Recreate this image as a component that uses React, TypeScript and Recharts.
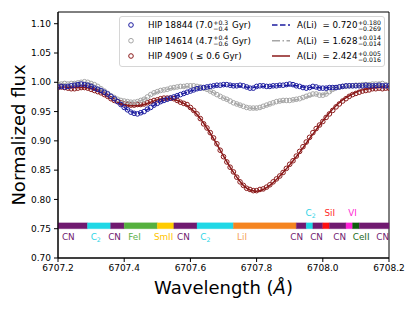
import React from 'react'
import {
    ComposedChart,
    Scatter,
    Line,
    XAxis,
    YAxis,
    ReferenceArea,
    ReferenceDot,
    Legend,
} from 'recharts'

// observed spectra, sampled every 0.01 A from 6707.20 to 6708.20
const hip18844Flux = [
    0.992, 0.993, 0.992, 0.993, 0.994, 0.995, 0.996, 0.997, 0.996, 0.995,
    0.993, 0.990, 0.988, 0.986, 0.983, 0.980, 0.976, 0.972, 0.967, 0.962,
    0.957, 0.953, 0.949, 0.947, 0.946, 0.948, 0.950, 0.954, 0.957, 0.961,
    0.964, 0.967, 0.969, 0.971, 0.973, 0.975, 0.977, 0.979, 0.981, 0.983,
    0.985, 0.987, 0.989, 0.990, 0.991, 0.992, 0.993, 0.994, 0.995, 0.995,
    0.996, 0.996, 0.995, 0.994, 0.994, 0.995, 0.994, 0.992, 0.990, 0.990,
    0.993, 0.994, 0.994, 0.993, 0.993, 0.994, 0.994, 0.995, 0.995, 0.996,
    0.997, 0.996, 0.994, 0.993, 0.991, 0.990, 0.991, 0.993, 0.992, 0.990,
    0.990, 0.990, 0.991, 0.991, 0.991, 0.992, 0.993, 0.994, 0.994, 0.994,
    0.994, 0.994, 0.994, 0.995, 0.994, 0.994, 0.994, 0.995, 0.994, 0.994,
    0.994,
]
const hip14614Flux = [
    0.997, 0.997, 0.998, 0.997, 0.998, 0.998, 0.999, 1.000, 1.001, 1.000,
    0.998, 0.996, 0.993, 0.989, 0.985, 0.981, 0.977, 0.974, 0.971, 0.969,
    0.968, 0.967, 0.966, 0.966, 0.967, 0.969, 0.971, 0.975, 0.979, 0.982,
    0.984, 0.986, 0.987, 0.988, 0.990, 0.991, 0.992, 0.993, 0.993, 0.994,
    0.994, 0.994, 0.993, 0.992, 0.990, 0.988, 0.985, 0.982, 0.979, 0.976,
    0.973, 0.971, 0.968, 0.965, 0.963, 0.961, 0.959, 0.957, 0.956, 0.956,
    0.956, 0.957, 0.959, 0.961, 0.963, 0.965, 0.967, 0.968, 0.969, 0.969,
    0.969, 0.970, 0.971, 0.972, 0.974, 0.976, 0.978, 0.980, 0.980, 0.978,
    0.978, 0.980, 0.984, 0.988, 0.991, 0.992, 0.993, 0.993, 0.994, 0.994,
    0.995, 0.995, 0.996, 0.996, 0.996, 0.997, 0.997, 0.997, 0.998, 0.996,
    0.994,
]
const hip4909Flux = [
    0.991, 0.992, 0.991, 0.990, 0.989, 0.989, 0.990, 0.991, 0.991, 0.990,
    0.988, 0.986, 0.984, 0.982, 0.979, 0.976, 0.972, 0.969, 0.967, 0.965,
    0.963, 0.962, 0.961, 0.961, 0.962, 0.962, 0.963, 0.965, 0.967, 0.969,
    0.970, 0.972, 0.973, 0.973, 0.973, 0.972, 0.969, 0.966, 0.964, 0.962,
    0.957, 0.952, 0.946, 0.938, 0.929, 0.922, 0.914, 0.905, 0.895, 0.884,
    0.873, 0.864, 0.855, 0.847, 0.838, 0.830, 0.824, 0.819, 0.817, 0.815,
    0.815, 0.817, 0.818, 0.821, 0.825, 0.830, 0.835, 0.840, 0.846, 0.853,
    0.860, 0.866, 0.874, 0.882, 0.890, 0.898, 0.906, 0.914, 0.921, 0.927,
    0.933, 0.940, 0.946, 0.952, 0.958, 0.963, 0.968, 0.972, 0.976, 0.979,
    0.981, 0.983, 0.985, 0.986, 0.987, 0.989, 0.989, 0.990, 0.989, 0.990,
    0.990,
]

// synthetic fits, sampled every 0.02 A
const fitLow = [
    0.993, 0.993, 0.994, 0.995, 0.995, 0.993, 0.988, 0.982, 0.975, 0.966,
    0.957, 0.950, 0.947, 0.950, 0.957, 0.964, 0.969, 0.973, 0.977, 0.981,
    0.985, 0.988, 0.991, 0.993, 0.994, 0.995, 0.995, 0.994, 0.993, 0.991,
    0.992, 0.993, 0.993, 0.994, 0.994, 0.995, 0.994, 0.992, 0.991, 0.991,
    0.990, 0.991, 0.991, 0.992, 0.993, 0.994, 0.994, 0.994, 0.994, 0.994,
    0.994,
]
const fitMid = [
    0.997, 0.997, 0.997, 0.998, 0.999, 0.997, 0.992, 0.985, 0.977, 0.971,
    0.968, 0.966, 0.967, 0.971, 0.978, 0.983, 0.987, 0.989, 0.991, 0.992,
    0.993, 0.992, 0.989, 0.985, 0.979, 0.973, 0.968, 0.963, 0.959, 0.956,
    0.955, 0.958, 0.962, 0.966, 0.968, 0.969, 0.970, 0.973, 0.976, 0.979,
    0.979, 0.983, 0.988, 0.991, 0.993, 0.994, 0.995, 0.996, 0.996, 0.996,
    0.995,
]
const fitHigh = [
    0.992, 0.992, 0.991, 0.991, 0.991, 0.989, 0.985, 0.979, 0.972, 0.966,
    0.962, 0.960, 0.960, 0.962, 0.966, 0.970, 0.972, 0.972, 0.969, 0.964,
    0.956, 0.945, 0.930, 0.913, 0.894, 0.874, 0.855, 0.838, 0.824, 0.816,
    0.814, 0.817, 0.824, 0.834, 0.846, 0.859, 0.873, 0.888, 0.904, 0.919,
    0.934, 0.948, 0.960, 0.970, 0.977, 0.983, 0.987, 0.989, 0.991, 0.992,
    0.992,
]

const xTicks = [6707.2, 6707.4, 6707.6, 6707.8, 6708.0, 6708.2]
const yTicks = [0.7, 0.75, 0.8, 0.85, 0.9, 0.95, 1.0, 1.05, 1.1]

// line list
const lineFrom = [6707.2, 6707.289, 6707.359, 6707.4, 6707.5, 6707.55, 6707.62, 6707.73, 6707.92, 6707.95, 6707.97, 6708.0, 6708.02, 6708.07, 6708.09, 6708.11]
const lineTo = [6707.289, 6707.359, 6707.4, 6707.5, 6707.55, 6707.62, 6707.73, 6707.92, 6707.95, 6707.97, 6708.0, 6708.02, 6708.07, 6708.09, 6708.11, 6708.2]
const lineSpecies = ['CN', 'C2', 'CN', 'FeI', 'SmII', 'CN', 'C2', 'LiI', 'CN', 'C2', 'CN', 'SiI', 'CN', 'VI', 'CeII', 'CN']

const labelText = ['CN', 'C2', 'CN', 'FeI', 'SmII', 'CN', 'C2', 'LiI', 'CN', 'CN', 'CN', 'CeII', 'CN', 'C2', 'SiI', 'VI']
const labelWl = [6707.231, 6707.314, 6707.371, 6707.431, 6707.519, 6707.579, 6707.645, 6707.756, 6707.921, 6707.981, 6708.051, 6708.116, 6708.181, 6707.963, 6708.021, 6708.09]
const labelRow = ['below', 'below', 'below', 'below', 'below', 'below', 'below', 'below', 'below', 'below', 'below', 'below', 'below', 'above', 'above', 'above']

const barColor: Record<string, string> = {
    CN: '#701a70', C2: '#1fd8e6', FeI: '#55b03e', SmII: '#ffcc00', LiI: '#f5841f',
    SiI: '#ff1010', VI: '#ff22d8', CeII: '#0b5e0b',
}
const textColor: Record<string, string> = {
    CN: '#701a70', C2: '#2ad4e6', FeI: '#5cb04a', SmII: '#ffc400', LiI: '#f5a35c',
    SiI: '#ff2a2a', VI: '#ff2ad4', CeII: '#1b6b1b',
}
const rowY: Record<string, number> = { below: 0.736, above: 0.777 }

const BLUE = '#1c1ca0'
const GRAY = '#a6a6a6'
const RED = '#8b1a1a'
const FONT = 'DejaVu Sans, sans-serif'

const toPoints = (flux: number[], step: number) =>
    flux.map((f, i) => ({ wl: +(6707.2 + i * step).toFixed(3), flux: f }))

const obsLow = toPoints(hip18844Flux, 0.01)
const obsMid = toPoints(hip14614Flux, 0.01)
const obsHigh = toPoints(hip4909Flux, 0.01)
const modLow = toPoints(fitLow, 0.02)
const modMid = toPoints(fitMid, 0.02)
const modHigh = toPoints(fitHigh, 0.02)

const ring = (color: string) => (p: any) => (
    <circle cx={p.cx} cy={p.cy} r={2.3} fill="none" stroke={color} strokeWidth={1} />
)

const SpeciesLabel = ({ cx, cy, name }: any) => {
    const color = textColor[name]
    if (name === 'C2') {
        return (
            <text x={cx} y={cy} textAnchor="middle" dominantBaseline="central" fontSize={8.8} fontFamily={FONT} fill={color}>
                C<tspan dy={2.5} fontSize={6.2}>2</tspan>
            </text>
        )
    }
    return (
        <text x={cx} y={cy} textAnchor="middle" dominantBaseline="central" fontSize={8.8} fontFamily={FONT} fill={color}>
            {name}
        </text>
    )
}

const Stack = ({ up, down }: { up: string; down: string }) => (
    <span style={{ display: 'inline-flex', flexDirection: 'column', fontSize: 6.2, lineHeight: '6px', margin: '0 1px 0 0.5px', position: 'relative', top: 0.5 }}>
        <span>{up}</span>
        <span>{down}</span>
    </span>
)

const rowStyle = (top: number, left: number): React.CSSProperties => ({
    position: 'absolute', left, top: top - 7, height: 14, display: 'flex', alignItems: 'center', whiteSpace: 'pre',
})

const renderLegend = () => {
    const rows = [9, 24.7, 40]
    return (
        <div style={{ position: 'relative', width: 266, height: 51, border: '1px solid #d6d6d6', borderRadius: 3, boxSizing: 'border-box', background: 'rgba(255,255,255,0.85)', fontFamily: FONT, fontSize: 8.7, color: '#000' }}>
            <svg width={266} height={51} style={{ position: 'absolute', left: -1, top: -1 }}>
                <circle cx={12} cy={rows[0]} r={2.3} fill="none" stroke={BLUE} strokeWidth={1} />
                <circle cx={12} cy={rows[1]} r={2.3} fill="none" stroke={GRAY} strokeWidth={1} />
                <circle cx={12} cy={rows[2]} r={2.3} fill="none" stroke={RED} strokeWidth={1} />
                <line x1={153} x2={171} y1={rows[0]} y2={rows[0]} stroke={BLUE} strokeWidth={1.5} strokeDasharray="5.5 2.5" />
                <line x1={153} x2={171} y1={rows[1]} y2={rows[1]} stroke={GRAY} strokeWidth={1.5} strokeDasharray="8 2.5 1.5 2.5" />
                <line x1={153} x2={171} y1={rows[2]} y2={rows[2]} stroke={RED} strokeWidth={1.5} />
            </svg>
            <div style={rowStyle(rows[0] - 1, 28)}>{'HIP 18844 (7.0'}<Stack up="+0.3" down="−0.4" />{'\u00a0Gyr)'}</div>
            <div style={rowStyle(rows[1] - 1, 28)}>{'HIP 14614 (4.7'}<Stack up="+0.4" down="−0.6" />{'\u00a0Gyr)'}</div>
            <div style={rowStyle(rows[2] - 1, 28)}>{'HIP 4909 ( ≤ 0.6 Gyr)'}</div>
            <div style={rowStyle(rows[0] - 1, 177)}>{'A(Li)  = 0.720'}<Stack up="+0.180" down="−0.269" /></div>
            <div style={rowStyle(rows[1] - 1, 177)}>{'A(Li)  = 1.628'}<Stack up="+0.014" down="−0.014" /></div>
            <div style={rowStyle(rows[2] - 1, 177)}>{'A(Li)  = 2.424'}<Stack up="+0.005" down="−0.016" /></div>
        </div>
    )
}

const renderYLabel = (props: any) => {
    const vb = props.viewBox
    const cy = vb.y + vb.height / 2
    return (
        <text x={25} y={cy} transform={`rotate(-90, 25, ${cy})`} textAnchor="middle" fontSize={18} fontFamily={FONT} fill="#000">
            Normalized flux
        </text>
    )
}

const renderXLabel = (props: any) => {
    const vb = props.viewBox
    return (
        <text x={vb.x + vb.width / 2} y={vb.y + 36} textAnchor="middle" fontSize={18} fontFamily={FONT} fill="#000">
            Wavelength (<tspan fontStyle="italic">Å</tspan>)
        </text>
    )
}

export default function App() {
    const tick = { fontSize: 9, fill: '#000', fontFamily: FONT }
    return (
        <div style={{ position: 'absolute', left: 0, top: 0, width: 415, height: 311, background: '#fff' }}>
            <ComposedChart width={415} height={311} margin={{ top: 12, right: 26, bottom: 0, left: 0 }}>
                <XAxis
                    type="number"
                    dataKey="wl"
                    domain={[6707.2, 6708.2]}
                    ticks={xTicks}
                    tickFormatter={(v: number) => v.toFixed(1)}
                    allowDataOverflow
                    height={53}
                    tickSize={4}
                    tickMargin={3}
                    tick={tick}
                    stroke="#000"
                    label={renderXLabel}
                />
                <YAxis
                    type="number"
                    dataKey="flux"
                    domain={[0.7, 1.12]}
                    ticks={yTicks}
                    tickFormatter={(v: number) => v.toFixed(2)}
                    allowDataOverflow
                    width={58}
                    tickSize={4}
                    tickMargin={3}
                    tick={tick}
                    stroke="#000"
                    label={renderYLabel}
                />
                <ReferenceArea x1={6707.2} x2={6708.2} y1={0.7} y2={1.12} fill="none" stroke="#000" strokeWidth={1} ifOverflow="visible" />
                {lineSpecies.map((s, i) => (
                    <ReferenceArea
                        key={'bar' + i}
                        x1={lineFrom[i]}
                        x2={lineTo[i]}
                        y1={0.75}
                        y2={0.76}
                        fill={barColor[s]}
                        fillOpacity={1}
                        stroke={barColor[s]}
                        strokeOpacity={0.35}
                        strokeWidth={1}
                    />
                ))}
                {labelText.map((s, i) => (
                    <ReferenceDot
                        key={'lab' + i}
                        x={labelWl[i]}
                        y={rowY[labelRow[i]]}
                        r={0}
                        ifOverflow="visible"
                        shape={(p: any) => <SpeciesLabel cx={p.cx} cy={p.cy} name={s} />}
                    />
                ))}
                <Scatter name="HIP 4909" data={obsHigh} dataKey="flux" shape={ring(RED)} isAnimationActive={false} />
                <Scatter name="HIP 14614" data={obsMid} dataKey="flux" shape={ring(GRAY)} isAnimationActive={false} />
                <Scatter name="HIP 18844" data={obsLow} dataKey="flux" shape={ring(BLUE)} isAnimationActive={false} />
                <Line data={modLow} dataKey="flux" type="monotone" stroke={BLUE} strokeWidth={1.5} strokeDasharray="5.5 2.5" dot={false} isAnimationActive={false} />
                <Line data={modMid} dataKey="flux" type="monotone" stroke={GRAY} strokeWidth={1.5} strokeDasharray="8 2.5 1.5 2.5" dot={false} isAnimationActive={false} />
                <Line data={modHigh} dataKey="flux" type="monotone" stroke={RED} strokeWidth={1.5} dot={false} isAnimationActive={false} />
                <Legend
                    layout="vertical"
                    align="center"
                    verticalAlign="middle"
                    content={renderLegend}
                    wrapperStyle={{ top: 16, left: 119, width: 266, height: 51 }}
                />
            </ComposedChart>
        </div>
    )
}
